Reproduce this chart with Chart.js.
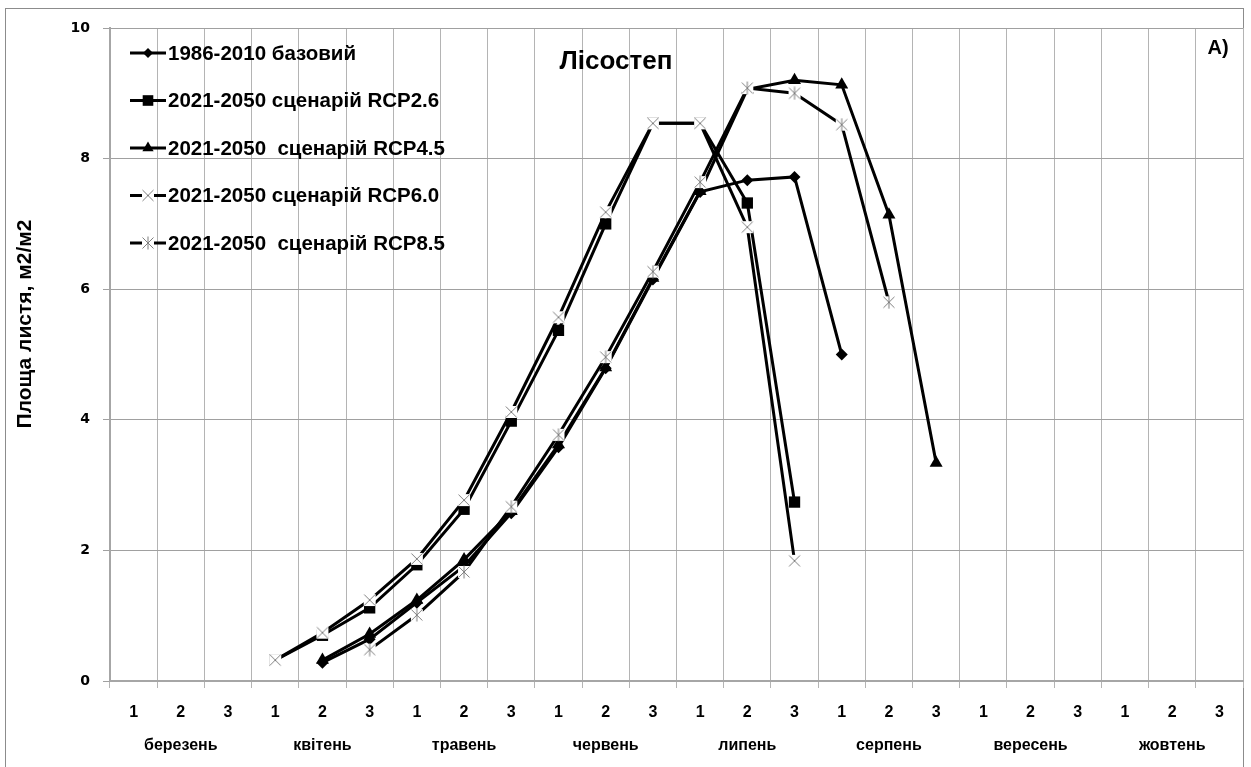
<!DOCTYPE html>
<html>
<head>
<meta charset="utf-8">
<title>Лісостеп</title>
<script src="https://cdn.jsdelivr.net/npm/chart.js"></script>
<style>
    html, body { margin: 0; padding: 0; background: #fff; }
    #wrap { position: relative; width: 1251px; height: 767px; }
</style>
</head>
<body>
<div id="wrap"><canvas id="chart" width="1251" height="767"></canvas></div>
<script>
const decades = ['1', '2', '3'];
const months = ['березень', 'квітень', 'травень', 'червень', 'липень', 'серпень', 'вересень', 'жовтень'];

const yTicks = [0, 2, 4, 6, 8, 10];

const seriesNames = [
    '1986-2010 базовий',
    '2021-2050 сценарій RCP2.6',
    '2021-2050  сценарій RCP4.5',
    '2021-2050 сценарій RCP6.0',
    '2021-2050  сценарій RCP8.5'
];

const n = null;
const base  = [n, n, n, n,    0.28, 0.64, 1.20, 1.76, 2.57, 3.58, 4.79, 6.15, 7.49, 7.67, 7.72, 5.00, n,    n,    n, n, n, n, n, n];
const rcp26 = [n, n, n, 0.32, 0.70, 1.12, 1.78, 2.63, 3.98, 5.37, 7.00, 8.54, 8.54, 7.32, 2.74, n,    n,    n,    n, n, n, n, n, n];
const rcp45 = [n, n, n, n,    0.32, 0.72, 1.24, 1.86, 2.60, 3.62, 4.80, 6.17, 7.50, 9.06, 9.20, 9.13, 7.14, 3.34, n, n, n, n, n, n];
const rcp60 = [n, n, n, 0.32, 0.74, 1.24, 1.87, 2.77, 4.12, 5.57, 7.18, 8.54, 8.54, 6.95, 1.84, n,    n,    n,    n, n, n, n, n, n];
const rcp85 = [n, n, n, n,    n,    0.48, 1.01, 1.67, 2.67, 3.77, 4.96, 6.27, 7.64, 9.08, 9.00, 8.52, 5.80, n,    n, n, n, n, n, n];

// one label per decade; the month name goes under the middle decade
const labels = [];
months.forEach(m => {
    decades.forEach((d, i) => {
        labels.push(i === 1 ? [d, m] : [d, '']);
    });
});

// grey X markers with a white box behind, like the original
function makeMarker(withStem){
    const c = document.createElement('canvas');
    c.width = 14; c.height = 14;
    const g = c.getContext('2d');
    g.fillStyle = '#fff';
    g.fillRect(1, 1, 12, 12);
    g.strokeStyle = '#7f7f7f';
    g.lineWidth = 1;
    g.beginPath();
    g.moveTo(1.5, 1.5); g.lineTo(12.5, 12.5);
    g.moveTo(12.5, 1.5); g.lineTo(1.5, 12.5);
    if (withStem){
        g.moveTo(7, 0.5); g.lineTo(7, 13.5);
    }
    g.stroke();
    return c;
}
const crossMarker = makeMarker(false);
const starMarker = makeMarker(true);

const styles = [
    { pointStyle: 'rectRot', pointRadius: 6 },
    { pointStyle: 'rect', pointRadius: 8 },
    { pointStyle: 'triangle', pointRadius: 7.5 },
    { pointStyle: crossMarker, pointRadius: 7 },
    { pointStyle: starMarker, pointRadius: 7 }
];

const values = [base, rcp26, rcp45, rcp60, rcp85];

const datasets = values.map((data, i) => ({
    label: seriesNames[i],
    data: data,
    borderColor: '#000',
    backgroundColor: '#000',
    borderWidth: 3,
    pointBackgroundColor: '#000',
    pointBorderColor: '#000',
    pointBorderWidth: 0,
    pointStyle: styles[i].pointStyle,
    pointRadius: styles[i].pointRadius,
    tension: 0,
    spanGaps: false,
    order: values.length - 1 - i
}));

function drawMarker(ctx, style, r, x, y){
    ctx.save();
    ctx.fillStyle = '#000';
    if (style instanceof HTMLCanvasElement){
        ctx.drawImage(style, x - style.width / 2, y - style.height / 2);
    } else if (style === 'rectRot'){
        ctx.beginPath();
        ctx.moveTo(x, y - r); ctx.lineTo(x + r, y); ctx.lineTo(x, y + r); ctx.lineTo(x - r, y);
        ctx.closePath(); ctx.fill();
    } else if (style === 'rect'){
        const s = r * Math.SQRT1_2;
        ctx.fillRect(x - s, y - s, 2 * s, 2 * s);
    } else if (style === 'triangle'){
        ctx.beginPath();
        ctx.moveTo(x, y - r);
        ctx.lineTo(x + r * 0.866, y + r * 0.5);
        ctx.lineTo(x - r * 0.866, y + r * 0.5);
        ctx.closePath(); ctx.fill();
    }
    ctx.restore();
}

const decorations = {
    id: 'decorations',
    beforeDraw(chart){
        const ctx = chart.ctx;
        ctx.save();
        ctx.fillStyle = '#fff';
        ctx.fillRect(0, 0, chart.width, chart.height);
        ctx.strokeStyle = '#8c8c8c';
        ctx.lineWidth = 1;
        ctx.strokeRect(5.5, 8.5, 1238, 800);
        ctx.restore();
    },
    afterDraw(chart){
        const ctx = chart.ctx;
        ctx.save();

        // y axis title
        ctx.fillStyle = '#000';
        ctx.font = 'bold 21px "Liberation Sans", Arial, sans-serif';
        ctx.textAlign = 'center';
        ctx.textBaseline = 'middle';
        ctx.translate(25, 324);
        ctx.rotate(-Math.PI / 2);
        ctx.fillText('Площа листя, м2/м2', 0, 0);
        ctx.setTransform(1, 0, 0, 1, 0, 0);

        // chart title and panel letter
        ctx.font = 'bold 26px "Liberation Sans", Arial, sans-serif';
        ctx.fillText('Лісостеп', 616, 62);
        ctx.font = 'bold 20px "Liberation Sans", Arial, sans-serif';
        ctx.fillText('А)', 1218, 48);

        // legend in the upper left of the plot
        ctx.font = 'bold 20.5px "Liberation Sans", Arial, sans-serif';
        ctx.textAlign = 'left';
        chart.data.datasets.forEach((ds, i) => {
            const y = 53 + i * 47.5;
            ctx.strokeStyle = '#000';
            ctx.lineWidth = 3;
            ctx.beginPath();
            ctx.moveTo(130, y);
            ctx.lineTo(166, y);
            ctx.stroke();
            drawMarker(ctx, ds.pointStyle, i === 1 ? 7.5 : (i === 2 ? 6.5 : 5), 148, y);
            ctx.fillStyle = '#000';
            ctx.fillText(ds.label, 168, y + 1);
        });
        ctx.restore();
    }
};

new Chart(document.getElementById('chart'), {
    type: 'line',
    data: { labels: labels, datasets: datasets },
    options: {
        responsive: false,
        animation: false,
        layout: { padding: { left: 0, top: 28, right: 8, bottom: 0 } },
        plugins: {
            legend: { display: false },
            tooltip: { enabled: false }
        },
        scales: {
            x: {
                offset: true,
                grid: {
                    offset: true,
                    color: '#b4b4b4',
                    lineWidth: 1,
                    tickLength: 7,
                    drawTicks: true
                },
                border: { color: '#a6a6a6', width: 2 },
                ticks: {
                    autoSkip: false,
                    maxRotation: 0,
                    minRotation: 0,
                    padding: 8,
                    color: '#000',
                    font: { family: '"Liberation Sans", Arial, sans-serif', weight: 'bold', size: 16, lineHeight: 2.06 }
                },
                afterFit(scale){ scale.height = 86; }
            },
            y: {
                min: 0,
                max: 10,
                afterBuildTicks(scale){ scale.ticks = yTicks.map(v => ({ value: v })); },
                grid: { color: '#a0a0a0', lineWidth: 1, tickLength: 7 },
                border: { color: '#a6a6a6', width: 2 },
                ticks: {
                    padding: 13,
                    color: '#000',
                    font: { family: '"DejaVu Sans", Verdana, sans-serif', weight: 'bold', size: 14 }
                },
                afterFit(scale){ scale.width = 110; }
            }
        }
    },
    plugins: [decorations]
});
</script>
</body>
</html>
